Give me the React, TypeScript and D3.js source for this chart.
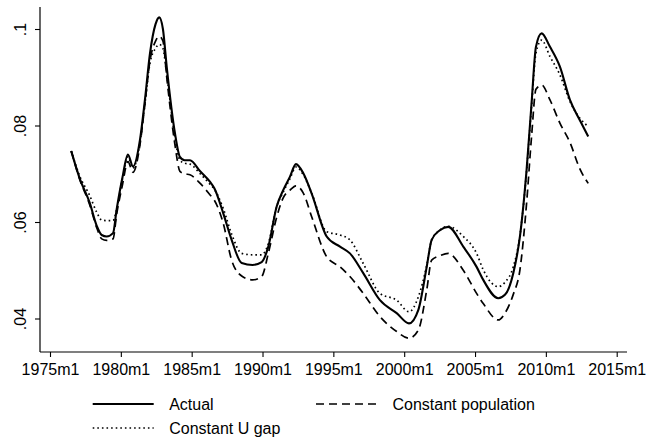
import React, { useEffect, useRef } from 'react';
import * as d3 from 'd3';

// dates as decimal years
const dates = [
  1976.5, 1977.1, 1977.8, 1978.3, 1978.65, 1979.0, 1979.45, 1979.7, 1980.1, 1980.5,
  1980.86, 1981.35, 1981.7, 1982.06, 1982.45, 1982.71, 1982.97, 1983.24, 1983.82, 1984.17,
  1984.5, 1984.88, 1985.6, 1986.3, 1986.6, 1987.23, 1987.82, 1988.53, 1989.3, 1989.94,
  1990.41, 1991.0, 1991.46, 1991.94, 1992.36, 1992.88, 1993.47, 1994.53, 1995.47, 1996.17,
  1997.11, 1998.29, 1999.47, 2000.34, 2001.0, 2001.59, 2001.94, 2002.52, 2003.11, 2004.17,
  2005.11, 2005.58, 2006.64, 2007.11, 2007.7, 2008.17, 2008.64, 2008.99, 2009.3, 2009.7,
  2010.29, 2010.99, 2011.7, 2012.4, 2012.99
];

const actual = [
  .0747, .0690, .0640, .0592, .0573, .0570, .0577, .0625, .0690, .0740,
  .0715, .0770, .0853, .0950, .1010, .1024, .1000, .0921, .0784, .0735,
  .0728, .0728, .0705, .0683, .0670, .0618, .0563, .0515, .0511, .0517,
  .0549, .0632, .0666, .0694, .0720, .0701, .0659, .0570, .0549, .0535,
  .0494, .0438, .0411, .0390, .0418, .0507, .0563, .0583, .0590, .0549,
  .0507, .0480, .0442, .0449, .0494, .0570, .0708, .0846, .0963, .0991,
  .0963, .0922, .0853, .0811, .0777
];

const constPop = [
  .0747, .0688, .0636, .0588, .0565, .0562, .0565, .0615, .0675, .0725,
  .0703, .0760, .0845, .0935, .0975, .0985, .0975, .0900, .0760, .0705,
  .0700, .0698, .0680, .0656, .0645, .0597, .0521, .0488, .0480, .0487,
  .0535, .0610, .0650, .0666, .0675, .0660, .0611, .0528, .0507, .0487,
  .0452, .0404, .0373, .0359, .0376, .0459, .0521, .0530, .0535, .0500,
  .0452, .0431, .0397, .0411, .0450, .0501, .0639, .0777, .0875, .0884,
  .0853, .0805, .0765, .0710, .0680
];

const constGap = [
  .0747, .0695, .0655, .0620, .0604, .0603, .0603, .0625, .0688, .0735,
  .0712, .0765, .0845, .0930, .0960, .0968, .0960, .0905, .0775, .0728,
  .0722, .0720, .0700, .0678, .0668, .0628, .0575, .0535, .0532, .0532,
  .0555, .0632, .0662, .0690, .0714, .0698, .0660, .0580, .0573, .0563,
  .0514, .0452, .0438, .0414, .0445, .0510, .0563, .0583, .0591, .0570,
  .0535, .0501, .0466, .0475, .0507, .0572, .0705, .0840, .0950, .0977,
  .0943, .0905, .0850, .0815, .0798
];

const xTicks = [1975, 1980, 1985, 1990, 1995, 2000, 2005, 2010, 2015];
const yTicks = [0.04, 0.06, 0.08, 0.1];
const yTickLabels = ['.04', '.06', '.08', '.1'];

const FONT = '"Liberation Sans", Arial, Helvetica, sans-serif';

export default function App() {
  const ref = useRef<SVGSVGElement | null>(null);

  useEffect(() => {
    const svg = d3.select(ref.current);
    svg.selectAll('*').remove();

    const W = 646, H = 437;
    const plot = { left: 40, right: 627, top: 7, bottom: 352 };

    const x = d3.scaleLinear().domain([1975, 2015]).range([50, 616.7]);
    const y = d3.scaleLinear().domain([0.04, 0.1]).range([318.5, 29]);

    svg.append('rect').attr('width', W).attr('height', H).attr('fill', '#fff');

    // axis lines (plot region edges)
    svg.append('line')
      .attr('x1', plot.left).attr('x2', plot.left)
      .attr('y1', plot.top).attr('y2', plot.bottom)
      .attr('stroke', '#000').attr('stroke-width', 1.2);
    svg.append('line')
      .attr('x1', plot.left).attr('x2', plot.right)
      .attr('y1', plot.bottom).attr('y2', plot.bottom)
      .attr('stroke', '#000').attr('stroke-width', 1.2);

    // x axis
    const xAxis = svg.append('g')
      .attr('transform', `translate(0,${plot.bottom})`)
      .call(d3.axisBottom(x).tickValues(xTicks).tickSize(5).tickSizeOuter(0)
        .tickFormat(d => `${d}m1`));
    xAxis.select('.domain').remove();
    xAxis.selectAll('line').attr('stroke', '#000').attr('stroke-width', 1.1);
    xAxis.selectAll('text')
      .attr('font-family', FONT).attr('font-size', 16).attr('fill', '#000')
      .attr('dy', null).attr('y', 23);

    // y axis
    const yAxis = svg.append('g')
      .attr('transform', `translate(${plot.left},0)`)
      .call(d3.axisLeft(y).tickValues(yTicks).tickSize(5).tickSizeOuter(0)
        .tickFormat((d, i) => yTickLabels[i]));
    yAxis.select('.domain').remove();
    yAxis.selectAll('line').attr('stroke', '#000').attr('stroke-width', 1.1);
    yAxis.selectAll('text')
      .attr('font-family', FONT).attr('font-size', 16).attr('fill', '#000')
      .attr('x', null).attr('dy', null)
      .attr('text-anchor', 'middle')
      .attr('transform', 'translate(-14,0) rotate(-90)');

    const series = [
      { name: 'Actual', values: actual, dash: null, width: 2.1 },
      { name: 'Constant population', values: constPop, dash: '8,5', width: 1.7 },
      { name: 'Constant U gap', values: constGap, dash: '1.6,3', width: 1.7 },
    ];

    const line = d3.line<number>()
      .x((_, i) => x(dates[i]))
      .y(d => y(d))
      .curve(d3.curveMonotoneX);

    series.slice().reverse().forEach(s => {
      svg.append('path')
        .datum(s.values)
        .attr('d', line)
        .attr('fill', 'none')
        .attr('stroke', '#000')
        .attr('stroke-width', s.width)
        .attr('stroke-linejoin', 'round')
        .attr('stroke-dasharray', s.dash);
    });

    // legend
    const legend = [
      { s: series[0], x: 92.7, y: 404 },
      { s: series[1], x: 316, y: 404 },
      { s: series[2], x: 92.7, y: 428 },
    ];
    legend.forEach(l => {
      svg.append('line')
        .attr('x1', l.x).attr('x2', l.x + 61)
        .attr('y1', l.y).attr('y2', l.y)
        .attr('stroke', '#000')
        .attr('stroke-width', l.s.width)
        .attr('stroke-dasharray', l.s.dash);
      svg.append('text')
        .attr('x', l.x + 76.5).attr('y', l.y + 6)
        .attr('font-family', FONT).attr('font-size', 16)
        .attr('fill', '#000')
        .text(l.s.name);
    });
  }, []);

  return (
    <svg ref={ref} width={646} height={437}
      style={{ position: 'absolute', left: 0, top: 0, display: 'block' }} />
  );
}
